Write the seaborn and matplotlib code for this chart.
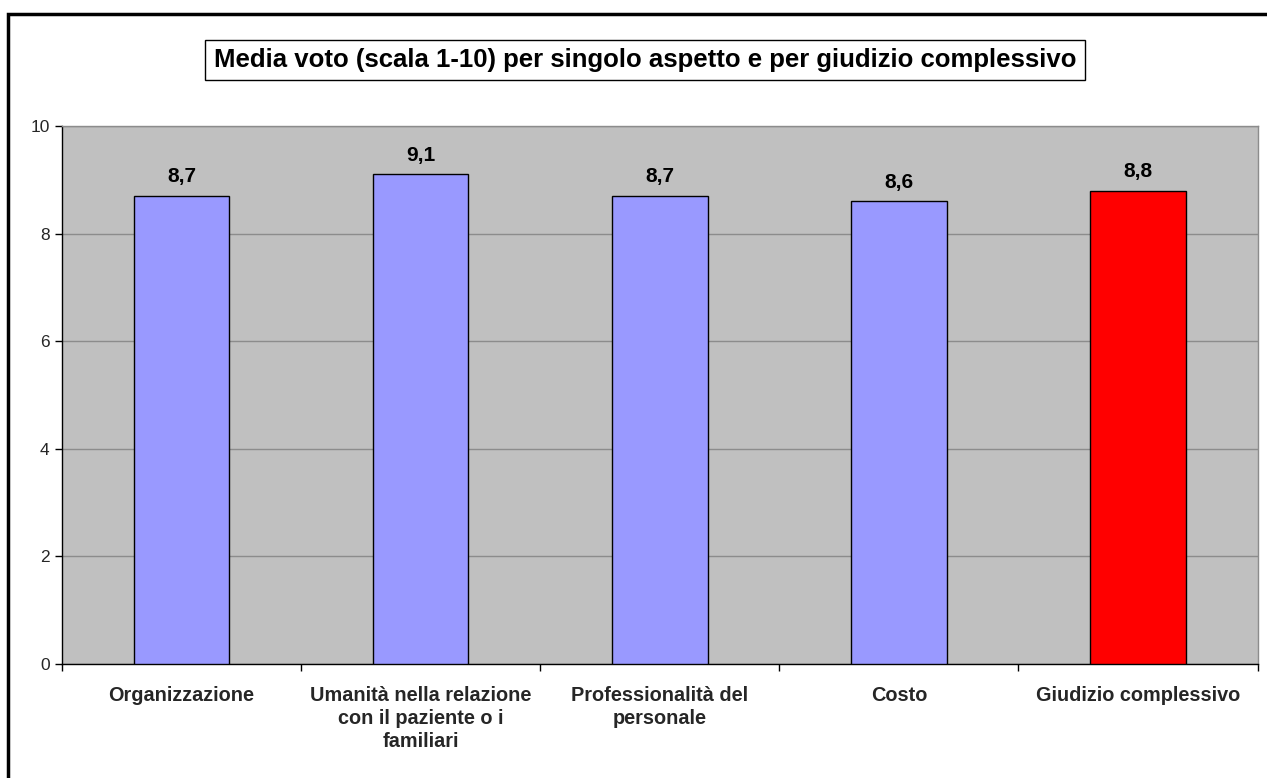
import matplotlib
matplotlib.use("Agg")
import matplotlib.pyplot as plt
from matplotlib.patches import Rectangle
import seaborn as sns
import pandas as pd

categories = [
    "Organizzazione",
    "Umanità nella relazione\ncon il paziente o i\nfamiliari",
    "Professionalità del\npersonale",
    "Costo",
    "Giudizio complessivo",
]
values = [8.7, 9.1, 8.7, 8.6, 8.8]
value_labels = ["8,7", "9,1", "8,7", "8,6", "8,8"]
bar_colors = ["#9999FF", "#9999FF", "#9999FF", "#9999FF", "#FF0000"]
y_ticks = [0, 2, 4, 6, 8, 10]
title = "Media voto (scala 1-10) per singolo aspetto e per giudizio complessivo"

sns.set_theme(style="white")
plt.rcParams["font.family"] = ["Liberation Sans", "DejaVu Sans"]

fig = plt.figure(figsize=(12.67, 7.78), dpi=100)
fig.patch.set_facecolor("white")
ax = fig.add_axes([62 / 1267, 1 - 664 / 778, (1257.5 - 62) / 1267, (664 - 126) / 778])
ax.set_facecolor("#C0C0C0")

df = pd.DataFrame({"cat": categories, "val": values})
sns.barplot(data=df, x="cat", y="val", hue="cat", palette=bar_colors,
            width=0.4, edgecolor="black", linewidth=1, saturation=1,
            legend=False, ax=ax, zorder=3)

ax.set_ylim(0, 10)
ax.set_xlim(-0.5, len(categories) - 0.5)
ax.set_yticks(y_ticks)
ax.set_yticklabels([str(t) for t in y_ticks], fontsize=12.5)
ax.yaxis.grid(True, color="#8C8C8C", linewidth=1, zorder=1)
ax.set_axisbelow(True)

ax.set_xticks(range(len(categories)))
ax.set_xticklabels(categories, fontsize=14.3, fontweight="bold", linespacing=1.26)
ax.set_xticks([i - 0.5 for i in range(len(categories) + 1)], minor=True)
ax.tick_params(axis="x", which="major", length=0, pad=16)
ax.tick_params(axis="x", which="minor", length=5, width=1, color="black", direction="out", bottom=True)
ax.tick_params(axis="y", length=5, width=1, color="black", direction="out", left=True, pad=4)
ax.set_xlabel("")
ax.set_ylabel("")

for side in ["left", "bottom"]:
    ax.spines[side].set_color("black")
    ax.spines[side].set_linewidth(1)
for side in ["top", "right"]:
    ax.spines[side].set_color("#8C8C8C")
    ax.spines[side].set_linewidth(1)

for i, (v, lab) in enumerate(zip(values, value_labels)):
    ax.annotate(lab, (i, v), xytext=(0, 7), textcoords="offset points",
                ha="center", va="bottom", fontsize=15, fontweight="bold", color="black")

fig.text(645 / 1267, 1 - 60 / 778, title, ha="center", va="center",
         fontsize=18.5, fontweight="bold", color="black",
         bbox=dict(boxstyle="square,pad=0.33", facecolor="white", edgecolor="black", linewidth=1))

# outer frame of the chart area
fig.patches.append(Rectangle((7.5 / 1267, -0.1), 1.2, 1 - 14 / 778 + 0.1,
                             transform=fig.transFigure, fill=False,
                             edgecolor="black", linewidth=2.5, zorder=10))

fig.savefig("out.png", dpi=100)
